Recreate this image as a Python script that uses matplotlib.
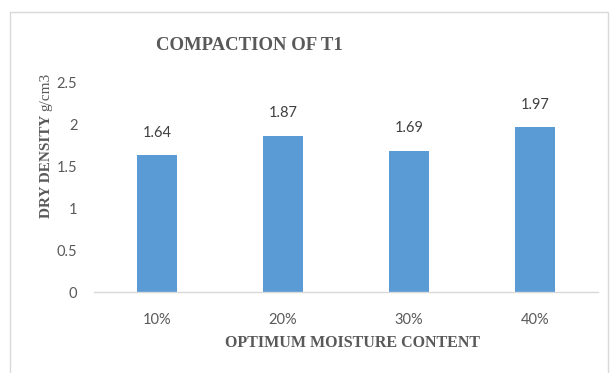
import matplotlib.pyplot as plt
from matplotlib.patches import Rectangle

# moisture content vs dry density for T1
categories = ['10%', '20%', '30%', '40%']
dry_density = [1.64, 1.87, 1.69, 1.97]
y_ticks = [0, 0.5, 1, 1.5, 2, 2.5]
y_tick_labels = ['0', '0.5', '1', '1.5', '2', '2.5']

W, H = 612, 373
fig = plt.figure(figsize=(W / 100, H / 100), dpi=100)

# light chart-area frame
fig.patches.append(Rectangle((10 / W, -0.05), 598 / W, 1.05 - 12 / H,
                             transform=fig.transFigure, fill=False,
                             edgecolor='#d9d9d9', linewidth=1.0))

ax = fig.add_axes([94 / W, 1 - 292 / H, 504 / W, 209 / H])
x = range(len(categories))
bars = ax.bar(x, dry_density, width=0.31, color='#5b9bd5')

ax.set_xlim(-0.5, len(categories) - 0.5)
ax.set_ylim(0, 2.5)
ax.set_xticks(list(x))
ax.set_xticklabels(categories)
ax.set_yticks(y_ticks)
ax.set_yticklabels(y_tick_labels)

for spine in ['top', 'right', 'left']:
    ax.spines[spine].set_visible(False)
ax.spines['bottom'].set_color('#d9d9d9')
ax.spines['bottom'].set_linewidth(1.0)
ax.tick_params(axis='both', length=0, colors='#595959', labelsize=10.5)
ax.tick_params(axis='x', pad=15)
ax.tick_params(axis='y', pad=12)
for lab in ax.get_xticklabels() + ax.get_yticklabels():
    lab.set_family('Lato')

# value labels above each bar
for b, v in zip(bars, dry_density):
    ax.annotate(f'{v:.2f}', (b.get_x() + b.get_width() / 2, v),
                xytext=(0, 11), textcoords='offset points',
                ha='center', va='bottom', fontsize=10.5, color='#404040',
                family='Lato')

fig.text(249 / W, 1 - 45 / H, 'COMPACTION OF T1', ha='center', va='center',
         fontsize=13.5, fontweight='bold', color='#595959',
         family='Liberation Serif')
fig.text(353 / W, 1 - 343 / H, 'OPTIMUM MOISTURE CONTENT', ha='center',
         va='center', fontsize=11.5, fontweight='bold', color='#595959',
         family='Liberation Serif')

# y axis title: bold name, regular unit stacked right after it
name = fig.text(46 / W, 1 - 218 / H, 'DRY DENSITY', ha='center', va='bottom',
                rotation=90, fontsize=11, fontweight='bold', color='#595959',
                family='Liberation Serif')
fig.canvas.draw()
top = name.get_window_extent().y1
fig.text(46 / W, (top + 4) / H, 'g/cm3', ha='center', va='bottom',
         rotation=90, fontsize=11, color='#595959',
         family='Liberation Serif')

fig.savefig('out.png', dpi=100)
